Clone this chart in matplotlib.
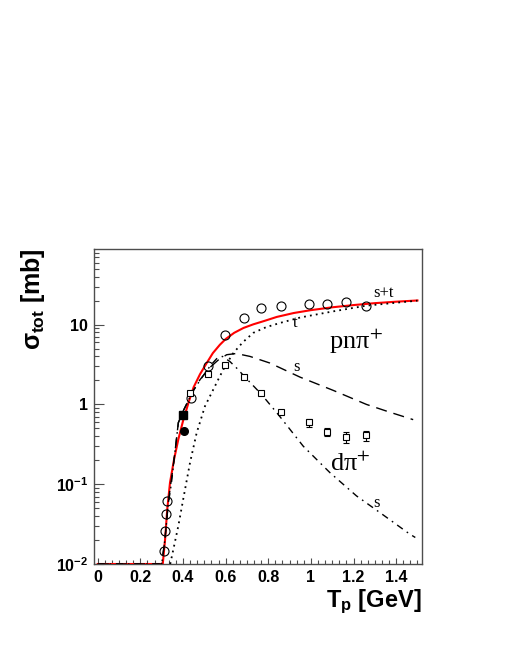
import numpy as np
import matplotlib
matplotlib.use("Agg")
import matplotlib.pyplot as plt
from matplotlib.ticker import MultipleLocator, FixedLocator, NullFormatter

plt.rcParams['mathtext.fontset'] = 'custom'
plt.rcParams['mathtext.rm'] = 'Liberation Sans:bold'
plt.rcParams['mathtext.it'] = 'Liberation Sans:bold'
plt.rcParams['mathtext.bf'] = 'Liberation Sans:bold'

# pn pi+ data (open circles)
pn_x = [0.310, 0.317, 0.321, 0.326, 0.436, 0.516, 0.598, 0.684, 0.767, 0.858, 0.992, 1.076, 1.167, 1.258]
pn_y = [0.0144, 0.0256, 0.0418, 0.0612, 1.21, 3.01, 7.5, 12.1, 16.2, 17.3, 17.9, 18.3, 19.0, 17.1]

# d pi+ data (open squares)
dpi_x = [0.434, 0.516, 0.598, 0.684, 0.767, 0.858, 0.992, 1.076, 1.167, 1.258]
dpi_y = [1.40, 2.42, 3.1, 2.22, 1.40, 0.80, 0.596, 0.455, 0.387, 0.41]
dpi_err = [0.0, 0.0, 0.0, 0.0, 0.0, 0.0, 0.07, 0.05, 0.06, 0.06]

# single filled points
fsq_x, fsq_y = [0.398], [0.74]
fci_x, fci_y = [0.403], [0.47]

# model curves
st_x = [0.00, 0.300, 0.305, 0.316, 0.326, 0.339, 0.358, 0.378, 0.400, 0.428, 0.450, 0.480, 0.511,
        0.540, 0.573, 0.600, 0.640, 0.684, 0.730, 0.780, 0.840, 0.920, 1.000, 1.100, 1.200, 1.300,
        1.400, 1.500]
st_y = [0.001, 0.006, 0.010, 0.0205, 0.0487, 0.105, 0.205, 0.365, 0.62, 1.1, 1.65, 2.4, 3.3,
        4.4, 5.6, 6.6, 7.9, 9.1, 10.1, 11.1, 12.5, 14.0, 15.2, 16.5, 17.6, 18.6, 19.4, 20.1]

t_x = [0.340, 0.355, 0.378, 0.401, 0.433, 0.464, 0.503, 0.540, 0.573, 0.600, 0.636, 0.680, 0.730,
       0.790, 0.855, 0.950, 1.100, 1.260, 1.380, 1.500]
t_y = [0.010, 0.0154, 0.030, 0.065, 0.187, 0.44, 0.95, 1.5, 2.26, 3.1, 4.4, 6.0, 7.9,
       9.3, 10.5, 12.3, 14.6, 17.3, 18.6, 20.0]

s_pn_x = [0.00, 0.300, 0.315, 0.330, 0.339, 0.350, 0.362, 0.378, 0.400, 0.448, 0.480, 0.526, 0.565,
          0.605, 0.650, 0.714, 0.808, 0.949, 1.105, 1.261, 1.370, 1.480]
s_pn_y = [0.001, 0.008, 0.020, 0.055, 0.087, 0.14, 0.25, 0.59, 0.82, 1.47, 2.05, 2.9, 3.6,
          4.2, 4.35, 4.0, 3.3, 2.2, 1.5, 1.0, 0.80, 0.645]

s_d_x = [0.00, 0.300, 0.315, 0.330, 0.345, 0.362, 0.378, 0.400, 0.448, 0.490, 0.530, 0.560, 0.585,
         0.620, 0.655, 0.684, 0.767, 0.850, 0.964, 1.089, 1.214, 1.323, 1.464, 1.490]
s_d_y = [0.001, 0.008, 0.020, 0.055, 0.10, 0.25, 0.59, 0.82, 1.5, 2.2, 3.1, 3.8, 4.0,
         3.45, 2.8, 2.3, 1.35, 0.73, 0.30, 0.14, 0.0714, 0.0443, 0.0237, 0.0215]

ymin, ymax = 0.01, 88

fig = plt.figure(figsize=(5.06, 6.54), dpi=100)
ax = fig.add_axes([0.1848, 0.1376, 0.6486, 0.4812])

# ROOT draws values below the minimum along the bottom edge
clip = lambda v: np.maximum(np.array(v), ymin)

ax.plot(st_x, clip(st_y), color='red', lw=1.5, zorder=3)
ax.plot(t_x, clip(t_y), color='black', lw=1.3, dashes=(1, 2.3), zorder=3)
ax.plot(s_pn_x, clip(s_pn_y), color='black', lw=1.0, dashes=(8, 5), zorder=3)
ax.plot(s_d_x, clip(s_d_y), color='black', lw=1.0, dashes=(5, 3.5, 1.2, 3.5), zorder=3)

ax.plot(pn_x, pn_y, 'o', mfc='none', mec='black', ms=6.5, mew=0.8, zorder=4)
ax.errorbar(dpi_x, dpi_y, yerr=dpi_err, fmt='s', mfc='white', mec='black', ecolor='black',
            ms=4.5, mew=0.8, elinewidth=0.8, capsize=2, capthick=0.8, zorder=4)
ax.plot(fsq_x, fsq_y, 's', color='black', ms=5.5, zorder=5)
ax.plot(fci_x, fci_y, 'o', color='black', ms=5.5, zorder=5)

ax.set_yscale('log')
ax.set_xlim(-0.02, 1.52)
ax.set_ylim(ymin, ymax)

ax.set_yticks([0.01, 0.1, 1, 10], labels=['10$^{-2}$', '10$^{-1}$', '1', '10'])
ax.yaxis.set_minor_locator(FixedLocator([m * 10.0 ** e for e in range(-2, 2) for m in range(2, 10)]))
ax.yaxis.set_minor_formatter(NullFormatter())
ax.set_xticks([0, 0.2, 0.4, 0.6, 0.8, 1.0, 1.2, 1.4], labels=['0', '0.2', '0.4', '0.6', '0.8', '1', '1.2', '1.4'])
ax.xaxis.set_minor_locator(MultipleLocator(0.2 / 6))

ax.tick_params(which='both', direction='in', top=False, right=False, color='0.3', width=0.8)
ax.tick_params(axis='y', which='major', length=7.5, pad=4)
ax.tick_params(axis='y', which='minor', length=3.8)
ax.tick_params(axis='x', which='major', length=4, pad=4)
ax.tick_params(axis='x', which='minor', length=3.2)
for lab in ax.get_xticklabels() + ax.get_yticklabels():
    lab.set_fontfamily('Liberation Sans')
    lab.set_fontweight('bold')
    lab.set_fontsize(11.5)

for sp in ax.spines.values():
    sp.set_color('0.3')
    sp.set_linewidth(1.0)

fig.text(421.7 / 506, 1 - 602 / 654, 'T$_{p}$ [GeV]', ha='right', va='center',
         fontsize=17, fontweight='bold', family='Liberation Sans')
fig.text(33 / 506, 1 - 248 / 654, r'$\sigma_{tot}$ [mb]', rotation=90, ha='center', va='top',
         fontsize=18, fontweight='bold', family='Liberation Sans')

# curve and channel labels
serif = dict(family='Liberation Serif', math_fontfamily='stix', ha='center', va='center', color='black')
ax.text(1.342, 24.9, 's+t', fontsize=12, **serif)
ax.text(0.925, 10.5, 't', fontsize=12, **serif)
ax.text(0.933, 2.96, 's', fontsize=12, **serif)
ax.text(1.308, 0.0578, 's', fontsize=12, **serif)
ax.text(1.213, 6.19, 'pnπ$^{+}$', fontsize=19, **serif)
ax.text(1.183, 0.178, 'dπ$^{+}$', fontsize=19, **serif)

fig.savefig('out.png', dpi=100)
